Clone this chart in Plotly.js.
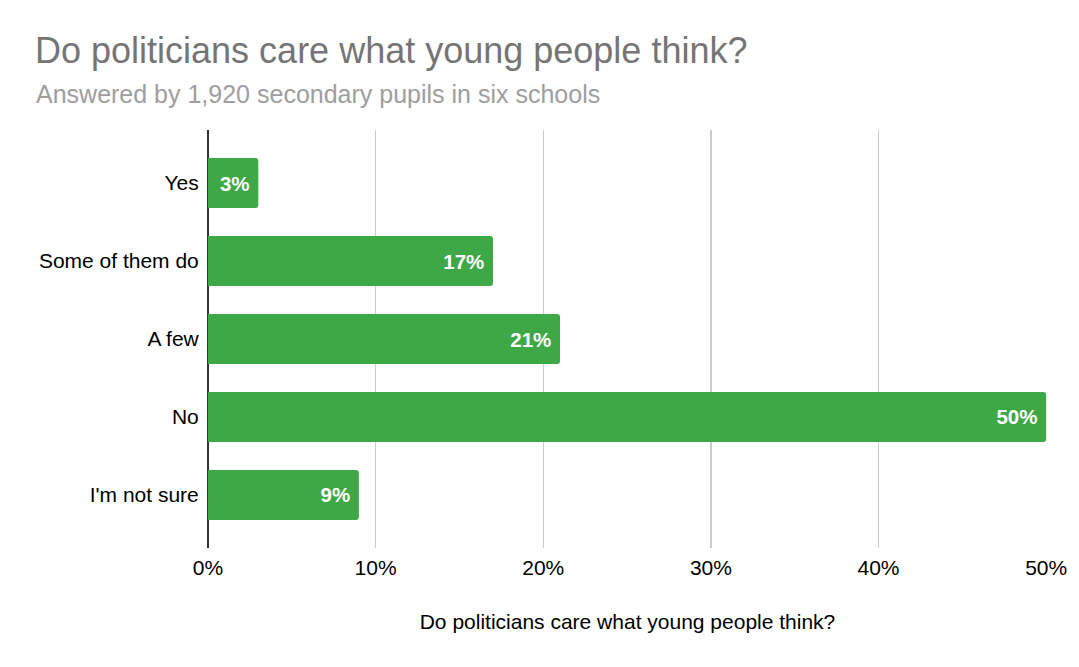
<!DOCTYPE html>
<html>
<head>
<meta charset="utf-8">
<script src="https://cdn.plot.ly/plotly-3.0.1.min.js"></script>
<style>html,body{margin:0;padding:0;background:#fff;}#chart{width:1079px;height:667px;}</style>
</head>
<body>
<div id="chart"></div>
<script>
const chartTitle = "Do politicians care what young people think?";
const chartSubtitle = "Answered by 1,920 secondary pupils in six schools";
const axisTitle = "Do politicians care what young people think?";
const categories = ["Yes", "Some of them do", "A few", "No", "I'm not sure"];
const percentages = [3, 17, 21, 50, 9];
const tickValues = [0, 10, 20, 30, 40, 50];
const tickLabels = ["0%", "10%", "20%", "30%", "40%", "50%"];

const FONT = "Arial, 'Liberation Sans', Helvetica, sans-serif";

const trace = {
  type: "bar",
  orientation: "h",
  y: categories,
  x: percentages,
  text: percentages.map(v => v + "%"),
  width: 0.64,
  marker: { color: "#3da845", cornerradius: 3, line: { width: 0 } },
  texttemplate: "%{text}\u00a0",
  textposition: "inside",
  insidetextanchor: "end",
  textangle: 0,
  textfont: { family: FONT, size: 20.5, color: "#ffffff", weight: "bold" },
  hoverinfo: "skip",
  cliponaxis: false
};

const layout = {
  width: 1079,
  height: 667,
  paper_bgcolor: "#ffffff",
  plot_bgcolor: "#ffffff",
  margin: { l: 208, r: 32, t: 130, b: 119 },
  showlegend: false,
  font: { family: FONT, color: "#000000", size: 21 },
  title: {
    text: chartTitle,
    font: { family: FONT, size: 36, color: "#757575" },
    x: 35 / 1079, xref: "container", xanchor: "left",
    y: 1 - 50 / 667, yref: "container", yanchor: "middle"
  },
  annotations: [{
    text: chartSubtitle,
    xref: "paper", yref: "paper",
    x: (34 - 208) / (1079 - 208 - 32), xanchor: "left",
    y: 1 + (130 - 94) / (667 - 130 - 119), yanchor: "middle",
    showarrow: false,
    font: { family: FONT, size: 25, color: "#9e9e9e" }
  }],
  xaxis: {
    range: [0, 50.05],
    tickvals: tickValues,
    ticktext: tickLabels,
    showgrid: true,
    gridcolor: "#cccccc",
    gridwidth: 1.5,
    zeroline: true,
    zerolinecolor: "#333333",
    zerolinewidth: 1.5,
    showline: false,
    ticks: "outside", ticklen: 1, tickcolor: "rgba(0,0,0,0)",
    tickfont: { family: FONT, size: 21, color: "#000000" },
    title: { text: axisTitle, font: { family: FONT, size: 21, color: "#000000" }, standoff: 36 },
    fixedrange: true
  },
  yaxis: {
    type: "category",
    autorange: false,
    range: [4.68, -0.68],
    showgrid: false,
    zeroline: false,
    showline: false,
    ticks: "outside", ticklen: 4, tickcolor: "rgba(0,0,0,0)",
    tickfont: { family: FONT, size: 21, color: "#000000" },
    fixedrange: true
  }
};

Plotly.newPlot("chart", [trace], layout, { displayModeBar: false, staticPlot: true });
</script>
</body>
</html>
